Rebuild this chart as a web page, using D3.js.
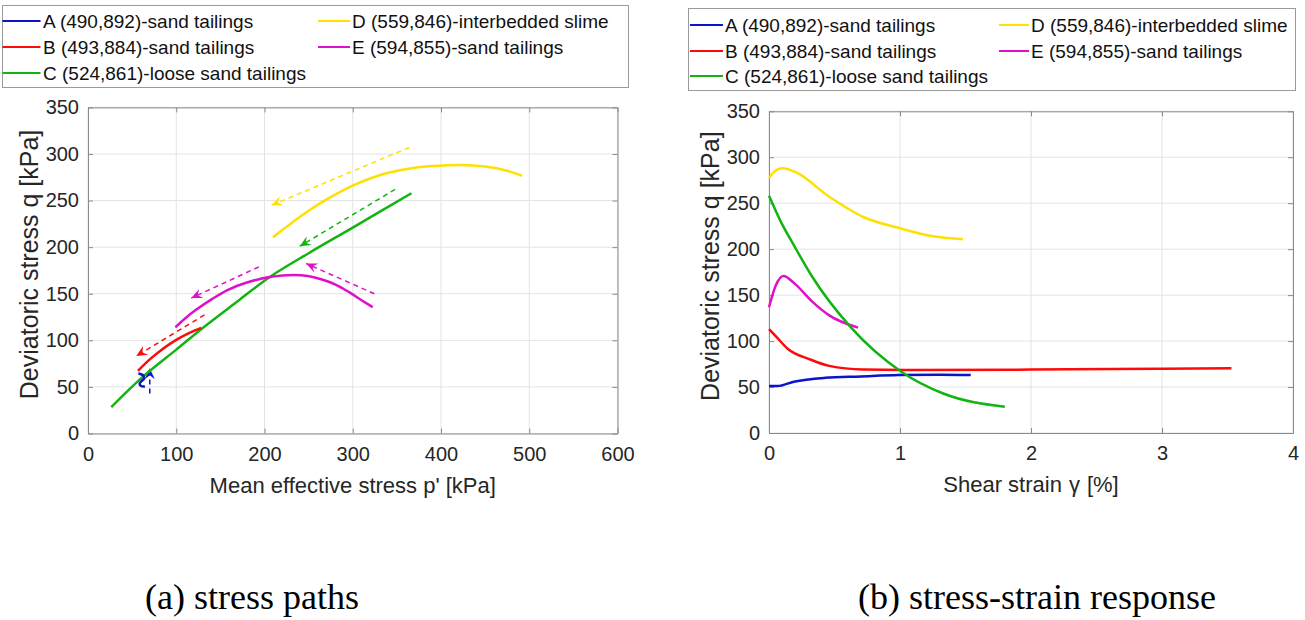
<!DOCTYPE html>
<html><head><meta charset="utf-8">
<script src="https://cdn.jsdelivr.net/npm/d3@7"></script>
<style>
body{margin:0;background:#fff;}
text{font-family:Arial,"Liberation Sans",Helvetica,sans-serif;}
</style></head>
<body><svg id="chart" width="1305" height="620"></svg>
<script>
// ---------- data ----------
const seriesNames = ["A (490,892)-sand tailings","B (493,884)-sand tailings","C (524,861)-loose sand tailings","D (559,846)-interbedded slime","E (594,855)-sand tailings"];
const seriesColors = ["#0a14c8","#ff0a0a","#12b412","#ffe000","#e010c8"];

const xTicksA = [0,100,200,300,400,500,600];
const yTicks = [0,50,100,150,200,250,300,350];
const xTicksB = [0,1,2,3,4];

// (a) stress paths: p' [kPa], q [kPa]
const pathA_p = [64.5,60,58.5,61,63.5,63,59,57];
const pathA_q = [50.5,51,53.5,56.5,59,62,64,64.4];
const pathB_p = [56.6,70,85,100,115,128.3];
const pathB_q = [67.3,79.5,91,100.5,108,113.3];
const pathC_p = [26.4,62,100,130,170,206,250,300,366.5];
const pathC_q = [28.4,60.8,90,113.3,142.3,168,193.5,221,257.9];
const pathD_p = [209.5,230,250,270,300,335,365,390,422,450,475,492];
const pathD_q = [210.7,225.5,239,251,266,278.5,284.5,287,288.2,286.5,282,276.5];
const pathE_p = [99,110,122,140,158,180,206,241.5,273.6,292.5,310,322.6];
const pathE_q = [114,123.5,132.5,144,154,162,168,169.8,162.6,153.6,143,135.6];

// dashed direction arrows (start -> arrow tip), series index
const arrowSeries = [0,1,2,3,4,4];
const arrowFrom_p = [70,132,348,364,193.6,324.5];
const arrowFrom_q = [43,127.3,262,307,178.8,150];
const arrowTo_p   = [70,54.7,240,208,117,247.2];
const arrowTo_q   = [70,83.1,201,245,145.3,182.4];

// (b) stress-strain: shear strain [%], q [kPa]
const strainA = [0,0.065,0.19,0.43,0.7,0.99,1.3,1.54];
const qA      = [51,51,55.8,60,61.5,63,63.5,63];
const strainB = [0,0.06,0.14,0.315,0.46,0.72,1.04,2,3,3.53];
const qB      = [113,104,92,80,73,69,68.5,69,70,70.4];
const strainC = [0,0.09,0.196,0.33,0.62,1.01,1.33,1.8];
const qC      = [258,230,202.7,170,115.7,66.7,43,28.6];
const strainD = [0,0.03,0.104,0.2,0.46,0.72,1.0,1.25,1.48];
const qD      = [277,283,288,284,257,235,222.7,214,210.7];
const strainE = [0,0.05,0.11,0.2,0.33,0.46,0.68];
const qE      = [136.8,160,170.8,162,143,128,114.6];

// ---------- drawing ----------
const svg = d3.select("#chart");
svg.append("rect").attr("width",1305).attr("height",620).attr("fill","#fff");

const zip = (a,b)=>a.map((v,i)=>[v,b[i]]);
const pathsA = [zip(pathA_p,pathA_q),zip(pathB_p,pathB_q),zip(pathC_p,pathC_q),zip(pathD_p,pathD_q),zip(pathE_p,pathE_q)];
const pathsB = [zip(strainA,qA),zip(strainB,qB),zip(strainC,qC),zip(strainD,qD),zip(strainE,qE)];

// arrow markers
const defs = svg.append("defs");
seriesColors.forEach((c,i)=>{
  defs.append("marker").attr("id","arr"+i).attr("markerUnits","userSpaceOnUse")
    .attr("viewBox","-12 -6 14 12").attr("refX",0).attr("refY",0)
    .attr("markerWidth",14).attr("markerHeight",12).attr("orient","auto")
    .append("path").attr("d","M0,0 L-11,-5 L-7,0 L-11,5 Z").attr("fill",c);
});

function panel(x,y,xTicks,xLabelParts){
  const g = svg.append("g");
  const [x0,x1]=x.range(),[y0,y1]=y.range();
  g.append("g").selectAll("line").data(xTicks).join("line")
    .attr("x1",d=>x(d)).attr("x2",d=>x(d)).attr("y1",y0).attr("y2",y1)
    .attr("stroke","#e3e3e3").attr("stroke-width",1);
  g.append("g").selectAll("line").data(yTicks).join("line")
    .attr("x1",x0).attr("x2",x1).attr("y1",d=>y(d)).attr("y2",d=>y(d))
    .attr("stroke","#e3e3e3").attr("stroke-width",1);
  const style = a=>{a.selectAll(".domain").attr("stroke","#8a8a8a");
    a.selectAll(".tick line").attr("stroke","#8a8a8a");
    a.selectAll("text").attr("fill","#262626").style("font-size","20px").style("font-family","Arial, 'Liberation Sans', sans-serif");};
  g.append("g").attr("transform",`translate(0,${y0})`)
    .call(d3.axisBottom(x).tickValues(xTicks).tickFormat(d3.format("d")).tickSize(-5).tickSizeOuter(0).tickPadding(13)).call(style);
  g.append("g").attr("transform",`translate(0,${y1})`)
    .call(d3.axisTop(x).tickValues(xTicks).tickFormat("").tickSize(-5).tickSizeOuter(0)).call(style);
  g.append("g").attr("transform",`translate(${x0},0)`)
    .call(d3.axisLeft(y).tickValues(yTicks).tickSize(-5).tickSizeOuter(0).tickPadding(9)).call(style);
  g.append("g").attr("transform",`translate(${x1},0)`)
    .call(d3.axisRight(y).tickValues(yTicks).tickFormat("").tickSize(-5).tickSizeOuter(0)).call(style);
  const xl = g.append("text").attr("x",(x0+x1)/2).attr("y",y0+59).attr("text-anchor","middle")
    .style("font-size","22px").attr("fill","#262626");
  xLabelParts.forEach(p=>xl.append("tspan").attr("dx",p[1]).text(p[0]));
  g.append("text").attr("transform",`translate(${x0-50},${(y0+y1)/2-6}) rotate(-90)`)
    .attr("text-anchor","middle").style("font-size","25px").attr("fill","#262626")
    .text("Deviatoric stress q [kPa]");
  return g;
}

function legend(x0,y0,w,h,rowY,lineX,lineW,textX,fs){
  const g = svg.append("g");
  g.append("rect").attr("x",x0).attr("y",y0).attr("width",w).attr("height",h)
    .attr("fill","#fff").attr("stroke","#9a9a9a").attr("stroke-width",1);
  const pos = [[0,0],[0,1],[0,2],[1,0],[1,1]];
  seriesNames.forEach((n,i)=>{
    const [c,r]=pos[i];
    g.append("line").attr("x1",lineX[c]).attr("x2",lineX[c]+lineW[c]).attr("y1",rowY[r]).attr("y2",rowY[r])
      .attr("stroke",seriesColors[i]).attr("stroke-width",2);
    g.append("text").attr("x",textX[c]).attr("y",rowY[r]+7).style("font-size",fs+"px")
      .attr("fill","#111").text(n);
  });
}

// ---- panel (a) ----
const xa = d3.scaleLinear().domain([0,600]).range([88,617.5]);
const ya = d3.scaleLinear().domain([0,350]).range([433.5,107.4]);
panel(xa,ya,xTicksA,[["Mean effective stress p' [kPa]",0]]);
const lineA = d3.line().x(d=>xa(d[0])).y(d=>ya(d[1])).curve(d3.curveCatmullRom);
arrowSeries.forEach((s,i)=>{
  svg.append("line").attr("x1",xa(arrowFrom_p[i])).attr("y1",ya(arrowFrom_q[i]))
    .attr("x2",xa(arrowTo_p[i])).attr("y2",ya(arrowTo_q[i]))
    .attr("stroke",seriesColors[s]).attr("stroke-width",1.5).attr("stroke-dasharray","5,4")
    .attr("marker-end",`url(#arr${s})`);
});
[2,3,4,1,0].forEach(i=>{
  svg.append("path").attr("d",lineA(pathsA[i])).attr("fill","none")
    .attr("stroke",seriesColors[i]).attr("stroke-width",2.5).attr("stroke-linejoin","round");
});

// ---- panel (b) ----
const xb = d3.scaleLinear().domain([0,4]).range([769,1293]);
const yb = d3.scaleLinear().domain([0,350]).range([433,111.3]);
panel(xb,yb,xTicksB,[["Shear strain",0],["γ",7],["[%]",7]]);
const lineB = d3.line().x(d=>xb(d[0])).y(d=>yb(d[1])).curve(d3.curveMonotoneX);
[3,4,1,0,2].forEach(i=>{
  svg.append("path").attr("d",lineB(pathsB[i])).attr("fill","none")
    .attr("stroke",seriesColors[i]).attr("stroke-width",2.5).attr("stroke-linejoin","round");
});

// legends
legend(2.5,5.5,626,82,[21,47,73],[2.5,318],[38,32],[43,352],19);
legend(688.5,8.5,607,82,[25,51,76],[690,999],[33,30],[725,1031],19);

// captions
svg.append("text").attr("x",252).attr("y",609).attr("text-anchor","middle")
  .style("font-family","'Liberation Serif','Times New Roman',serif").style("font-size","36px")
  .attr("fill","#000").text("(a) stress paths");
svg.append("text").attr("x",1037).attr("y",609).attr("text-anchor","middle")
  .style("font-family","'Liberation Serif','Times New Roman',serif").style("font-size","36px")
  .attr("fill","#000").text("(b) stress-strain response");
</script></body></html>
